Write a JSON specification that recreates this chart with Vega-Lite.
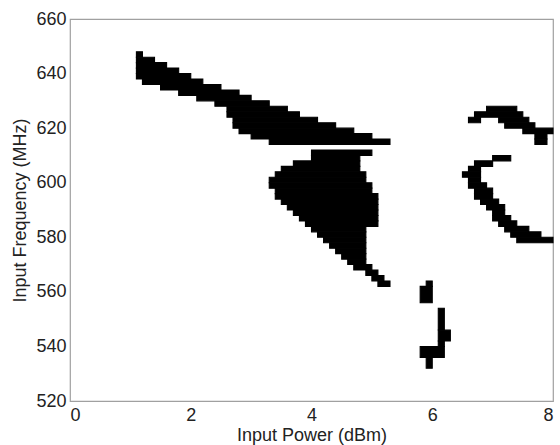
{
  "$schema": "https://vega.github.io/schema/vega-lite/v6.json",
  "autosize": "none",
  "width": 483,
  "height": 382,
  "padding": {"left": 70, "top": 19, "right": 7, "bottom": 44},
  "background": "white",
  "config": {
    "view": {"stroke": "#a0a0a0", "strokeWidth": 1.2},
    "font": "Liberation Sans",
    "axis": {"labelFont": "Liberation Sans", "titleFont": "Liberation Sans", "labelFontSize": 18, "titleFontSize": 18, "labelColor": "#222", "titleColor": "#222", "titleFontWeight": "normal", "domain": false, "ticks": false, "grid": false}
  },
  "data": {"values": [
    {"x": 1.1, "x2": 1.2, "y": 646, "y2": 648},
    {"x": 1.1, "x2": 1.4, "y": 644, "y2": 646},
    {"x": 1.1, "x2": 1.6, "y": 642, "y2": 644},
    {"x": 1.1, "x2": 1.8, "y": 640, "y2": 642},
    {"x": 1.1, "x2": 2.0, "y": 638, "y2": 640},
    {"x": 1.2, "x2": 2.2, "y": 636, "y2": 638},
    {"x": 1.5, "x2": 2.5, "y": 634, "y2": 636},
    {"x": 1.8, "x2": 2.8, "y": 632, "y2": 634},
    {"x": 2.1, "x2": 3.0, "y": 630, "y2": 632},
    {"x": 2.4, "x2": 3.3, "y": 628, "y2": 630},
    {"x": 2.6, "x2": 3.6, "y": 626, "y2": 628},
    {"x": 2.6, "x2": 3.8, "y": 624, "y2": 626},
    {"x": 2.7, "x2": 4.1, "y": 622, "y2": 624},
    {"x": 2.7, "x2": 4.4, "y": 620, "y2": 622},
    {"x": 2.8, "x2": 4.7, "y": 618, "y2": 620},
    {"x": 3.0, "x2": 5.0, "y": 616, "y2": 618},
    {"x": 3.3, "x2": 5.3, "y": 614, "y2": 616},

    {"x": 4.0, "x2": 5.0, "y": 610, "y2": 612},
    {"x": 4.0, "x2": 4.8, "y": 608, "y2": 610},
    {"x": 3.7, "x2": 4.8, "y": 606, "y2": 608},
    {"x": 3.5, "x2": 4.8, "y": 604, "y2": 606},
    {"x": 3.4, "x2": 4.9, "y": 602, "y2": 604},
    {"x": 3.3, "x2": 4.9, "y": 600, "y2": 602},
    {"x": 3.3, "x2": 5.0, "y": 598, "y2": 600},
    {"x": 3.4, "x2": 5.0, "y": 596, "y2": 598},
    {"x": 3.4, "x2": 5.1, "y": 594, "y2": 596},
    {"x": 3.5, "x2": 5.1, "y": 592, "y2": 594},
    {"x": 3.6, "x2": 5.1, "y": 590, "y2": 592},
    {"x": 3.7, "x2": 5.1, "y": 588, "y2": 590},
    {"x": 3.8, "x2": 5.1, "y": 586, "y2": 588},
    {"x": 3.9, "x2": 5.1, "y": 584, "y2": 586},
    {"x": 4.0, "x2": 4.9, "y": 582, "y2": 584},
    {"x": 4.1, "x2": 4.9, "y": 580, "y2": 582},
    {"x": 4.2, "x2": 4.9, "y": 578, "y2": 580},
    {"x": 4.3, "x2": 4.9, "y": 576, "y2": 578},
    {"x": 4.4, "x2": 4.9, "y": 574, "y2": 576},
    {"x": 4.5, "x2": 4.9, "y": 572, "y2": 574},
    {"x": 4.6, "x2": 4.9, "y": 570, "y2": 572},
    {"x": 4.7, "x2": 5.0, "y": 568, "y2": 570},
    {"x": 4.9, "x2": 5.1, "y": 566, "y2": 568},
    {"x": 5.0, "x2": 5.2, "y": 564, "y2": 566},
    {"x": 5.1, "x2": 5.3, "y": 562, "y2": 564},

    {"x": 6.9, "x2": 7.4, "y": 626, "y2": 628},
    {"x": 6.7, "x2": 7.5, "y": 624, "y2": 626},
    {"x": 6.6, "x2": 6.8, "y": 622, "y2": 624},
    {"x": 7.1, "x2": 7.6, "y": 622, "y2": 624},
    {"x": 7.2, "x2": 7.7, "y": 620, "y2": 622},
    {"x": 7.5, "x2": 8.0, "y": 618, "y2": 620},
    {"x": 7.7, "x2": 7.9, "y": 616, "y2": 618},
    {"x": 7.7, "x2": 7.9, "y": 614, "y2": 616},

    {"x": 7.0, "x2": 7.3, "y": 608, "y2": 610},
    {"x": 6.7, "x2": 7.0, "y": 606, "y2": 608},
    {"x": 6.6, "x2": 6.8, "y": 604, "y2": 606},
    {"x": 6.5, "x2": 6.8, "y": 602, "y2": 604},
    {"x": 6.6, "x2": 6.8, "y": 600, "y2": 602},
    {"x": 6.6, "x2": 6.9, "y": 598, "y2": 600},
    {"x": 6.7, "x2": 7.0, "y": 596, "y2": 598},
    {"x": 6.7, "x2": 7.0, "y": 594, "y2": 596},
    {"x": 6.8, "x2": 7.1, "y": 592, "y2": 594},
    {"x": 6.9, "x2": 7.2, "y": 590, "y2": 592},
    {"x": 7.0, "x2": 7.2, "y": 588, "y2": 590},
    {"x": 7.0, "x2": 7.3, "y": 586, "y2": 588},
    {"x": 7.1, "x2": 7.4, "y": 584, "y2": 586},
    {"x": 7.2, "x2": 7.6, "y": 582, "y2": 584},
    {"x": 7.3, "x2": 7.8, "y": 580, "y2": 582},
    {"x": 7.4, "x2": 8.0, "y": 578, "y2": 580},

    {"x": 5.9, "x2": 6.0, "y": 562, "y2": 564},
    {"x": 5.8, "x2": 6.0, "y": 556, "y2": 562},
    {"x": 6.1, "x2": 6.2, "y": 546, "y2": 554},
    {"x": 6.1, "x2": 6.3, "y": 542, "y2": 546},
    {"x": 6.1, "x2": 6.2, "y": 540, "y2": 542},
    {"x": 5.8, "x2": 6.2, "y": 536, "y2": 540},
    {"x": 5.9, "x2": 6.0, "y": 532, "y2": 536}
  ]},
  "mark": {"type": "rect", "fill": "black", "stroke": "black", "strokeWidth": 1.1},
  "encoding": {
    "x": {"field": "x", "type": "quantitative", "scale": {"domain": [0, 8], "nice": false, "zero": false}, "axis": {"title": "Input Power (dBm)", "values": [0, 2, 4, 6, 8], "labelPadding": 5, "titlePadding": 2}},
    "x2": {"field": "x2"},
    "y": {"field": "y", "type": "quantitative", "scale": {"domain": [520, 660], "nice": false, "zero": false}, "axis": {"title": "Input Frequency (MHz)", "values": [520, 540, 560, 580, 600, 620, 640, 660], "labelPadding": 4, "titlePadding": 6}},
    "y2": {"field": "y2"}
  }
}
